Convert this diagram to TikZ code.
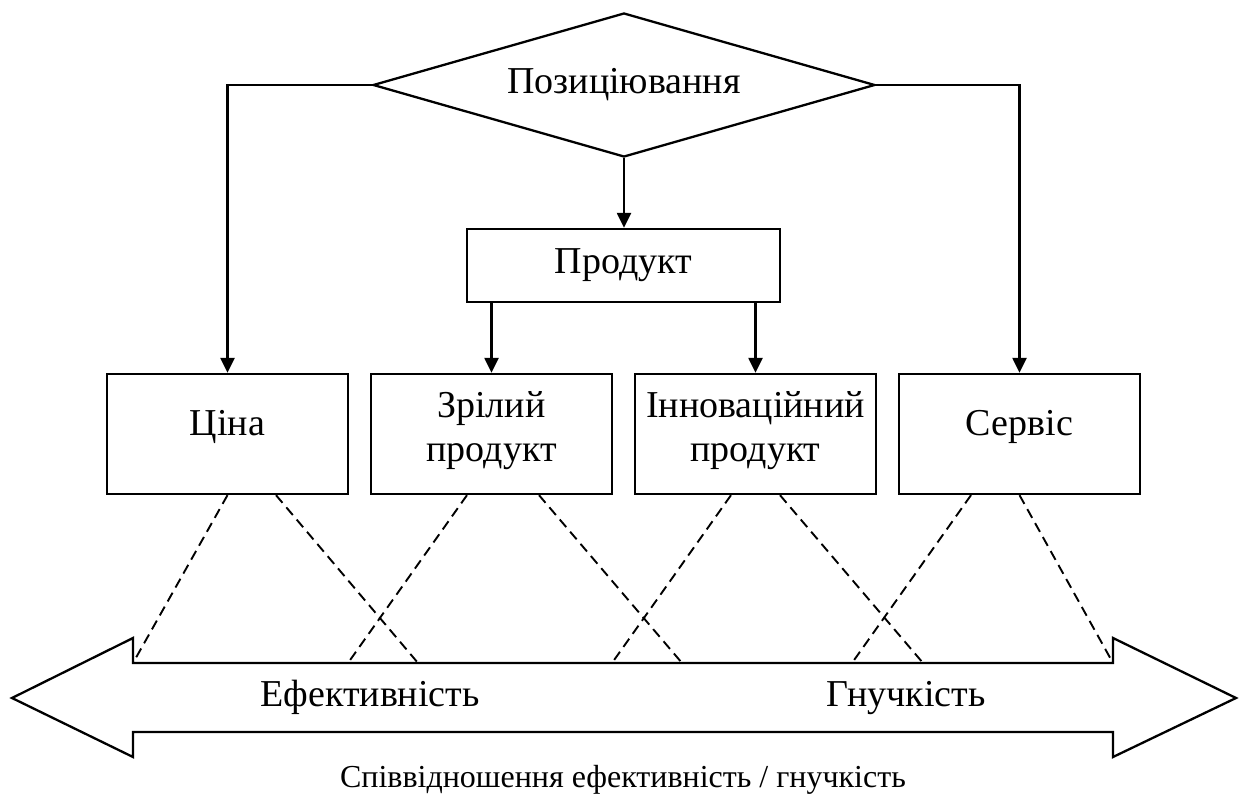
\documentclass[tikz,border=0pt]{standalone}
\usepackage{fontspec}
\setmainfont{Liberation Serif}
\usetikzlibrary{shapes.geometric,arrows.meta}
\begin{document}
\begin{tikzpicture}[x=1pt,y=-1pt, line width=2.3pt,
  box/.style={draw, rectangle, minimum width=241pt, minimum height=120pt, inner sep=0pt},
  lbl/.style={font=\fontsize{38}{44}\selectfont, align=center},
  arr/.style={-{Triangle[length=15pt,width=14pt]}},
  dsh/.style={dash pattern=on 10pt off 6pt, line width=1.9pt}]
\useasboundingbox (0,0) rectangle (1240,794);

% top
\node[draw, diamond, shape aspect=3.486, minimum width=502pt, minimum height=144pt, inner sep=0pt, lbl] (pos) at (624,85) {Позиціювання};
\node[draw, minimum width=313pt, minimum height=73pt, inner sep=0pt, lbl] (prod) at (623.5,265.5) {Продукт};

% boxes
\node[box] (cina) at (227.5,434) {};
\node[box] (zr) at (491.5,434) {};
\node[box] (inn) at (755.5,434) {};
\node[box] (serv) at (1019.5,434) {};
\node[lbl, anchor=base] (tcina) at (227.5,435) {Ціна};
\node[lbl] (tzr) at (491.5,431) {Зрілий\\продукт};
\node[lbl] (tinn) at (755.5,431) {Інноваційний\\продукт};
\node[lbl, anchor=base] (tserv) at (1019.5,435) {Сервіс};

% connectors
\draw[arr] (pos.west) -| (cina.north);
\draw[arr] (pos.east) -| (serv.north);
\draw[arr] (pos.south) -- (pos.south |- prod.north);
\draw[arr] (prod.south -| zr.north) -- (zr.north);
\draw[arr] (prod.south -| inn.north) -- (inn.north);

% double arrow
\draw[line join=miter] (133,663) -- (1113,663) -- (1113,638) -- (1236,698) -- (1113,757) -- (1113,732)
  -- (133,732) -- (133,757) -- (12,698) -- (133,638) -- cycle;
\coordinate (e1) at (133,663);
\coordinate (e2) at (418,663);
\coordinate (e3) at (348,663);
\coordinate (e4) at (682,663);
\coordinate (e5) at (612,663);
\coordinate (e6) at (923,663);
\coordinate (e7) at (852,663);
\coordinate (e8) at (1113,663);

% dashed
\draw[dsh] (cina.south) -- (e1);
\draw[dsh] ([xshift=48.5pt]cina.south) -- (e2);
\draw[dsh] ([xshift=-24.5pt]zr.south) -- (e3);
\draw[dsh] ([xshift=47.5pt]zr.south) -- (e4);
\draw[dsh] ([xshift=-24.5pt]inn.south) -- (e5);
\draw[dsh] ([xshift=24.5pt]inn.south) -- (e6);
\draw[dsh] ([xshift=-48.5pt]serv.south) -- (e7);
\draw[dsh] (serv.south) -- (e8);

% labels
\node[lbl, anchor=base] (eff) at (370,706) {Ефективність};
\node[lbl, anchor=base] (fl) at (906,706) {Гнучкість};
\node[font=\fontsize{32}{38}\selectfont, anchor=base] (cap) at (623,787) {Співвідношення ефективність / гнучкість};
\end{tikzpicture}
\end{document}
